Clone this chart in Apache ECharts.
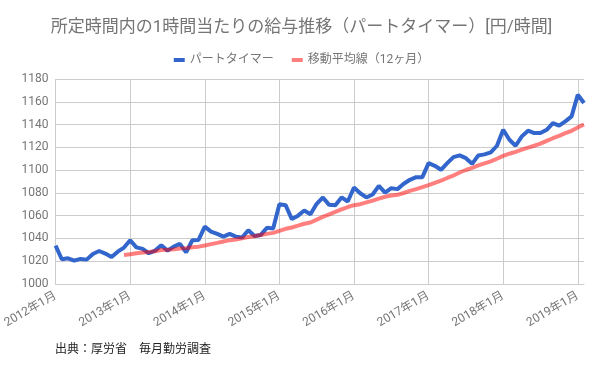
<!DOCTYPE html>
<html>
<head>
<meta charset="utf-8">
<script src="https://cdn.jsdelivr.net/npm/echarts@6/dist/echarts.min.js"></script>
<style>
html,body{margin:0;padding:0;background:#fff;}
#chart{width:603px;height:373px;}
</style>
</head>
<body>
<div id="chart"></div>
<script>
// Data (monthly, 2012年1月 .. 2019年2月)
const startYear = 2012;
const monthCount = 86;
const seriesNames = ['パートタイマー', '移動平均線（12ヶ月）'];
const partTimer = [
  1033.7, 1021.7, 1022.6, 1020.5, 1022.0, 1021.4, 1026.4, 1029.0, 1026.7, 1023.7, 1028.4, 1032.0,
  1038.4, 1032.2, 1030.8, 1027.0, 1029.3, 1034.0, 1029.3, 1032.8, 1035.2, 1027.9, 1038.4, 1038.7,
  1050.4, 1046.0, 1044.0, 1041.6, 1044.0, 1041.6, 1040.8, 1047.2, 1042.2, 1043.1, 1049.3, 1048.7,
  1070.0, 1069.2, 1057.0, 1060.0, 1064.5, 1061.3, 1070.4, 1076.0, 1069.5, 1069.2, 1076.0, 1072.4,
  1084.7, 1079.7, 1076.0, 1078.6, 1086.2, 1080.3, 1084.1, 1083.3, 1088.0, 1091.5, 1093.8, 1093.8,
  1106.1, 1103.8, 1100.3, 1106.1, 1111.4, 1112.9, 1110.5, 1105.5, 1112.9, 1113.8, 1115.5, 1121.4,
  1135.4, 1126.6, 1121.4, 1129.6, 1134.6, 1132.5, 1132.5, 1135.4, 1141.3, 1139.0, 1142.8, 1147.2,
  1166.2, 1158.9
];
// 12-month moving average, starts at 2012年12月 (index 11)
const movingAvgStart = 11;
const movingAvg = [
  1025.5,
  1026.1, 1027.0, 1027.7, 1028.2, 1028.8, 1029.9, 1030.1, 1030.4, 1031.1, 1031.5, 1032.3, 1032.8,
  1033.8, 1035.0, 1036.1, 1037.3, 1038.5, 1039.1, 1040.1, 1041.3, 1041.9, 1043.1, 1044.0, 1044.9,
  1046.6, 1048.5, 1049.6, 1051.2, 1052.9, 1054.0, 1056.5, 1058.9, 1061.2, 1063.4, 1065.6, 1067.6,
  1069.2, 1070.1, 1071.7, 1073.2, 1075.0, 1076.6, 1077.7, 1078.3, 1079.9, 1081.8, 1083.3, 1085.0,
  1086.8, 1088.8, 1090.8, 1093.1, 1095.2, 1097.9, 1100.1, 1102.0, 1104.1, 1105.9, 1107.7, 1110.0,
  1112.5, 1114.4, 1116.0, 1117.9, 1119.8, 1121.4, 1123.2, 1125.7, 1128.0, 1130.1, 1132.4, 1134.5,
  1137.5, 1140.0
];
const yMin = 1000, yMax = 1180, yStep = 20;
const titleText = '所定時間内の1時間当たりの給与推移（パートタイマー）[円/時間]';
const sourceText = '出典：厚労省　毎月勤労調査';

const categories = [];
for (let i = 0; i < monthCount; i++) {
  const y = startYear + Math.floor(i / 12);
  const m = (i % 12) + 1;
  categories.push(y + '年' + m + '月');
}
const avgData = [];
for (let i = 0; i < movingAvgStart; i++) avgData.push(null);
movingAvg.forEach(v => avgData.push(v));

const FONT = "Roboto, 'Noto Sans CJK JP', sans-serif";
const chart = echarts.init(document.getElementById('chart'), null, {renderer: 'canvas'});
const yearTick = (idx) => idx % 12 === 0;
chart.setOption({
  animation: false,
  backgroundColor: '#ffffff',
  textStyle: {fontFamily: FONT},
  title: [{
    text: titleText,
    left: 'center',
    top: 14,
    textStyle: {fontSize: 17, fontWeight: 'normal', color: '#757575', fontFamily: FONT}
  }, {
    text: sourceText,
    left: 50,
    top: 339,
    textStyle: {fontSize: 12, fontWeight: 'normal', color: '#222', fontFamily: FONT}
  }],
  legend: {
    top: 49,
    left: 'center',
    icon: 'rect',
    itemWidth: 11,
    itemHeight: 4,
    itemGap: 18,
    textStyle: {fontSize: 12, color: '#757575', fontFamily: FONT},
    data: seriesNames
  },
  grid: {left: 52, right: 19, top: 79, bottom: 89, containLabel: false},
  xAxis: {
    type: 'category',
    data: categories,
    boundaryGap: false,
    axisLine: {show: true, lineStyle: {color: '#cccccc', width: 1}},
    axisTick: {show: false},
    axisLabel: {
      interval: (idx) => yearTick(idx),
      rotate: 30,
      color: '#757575',
      fontSize: 12,
      margin: 11,
      fontFamily: FONT
    },
    splitLine: {show: true, interval: (idx) => yearTick(idx), lineStyle: {color: '#cccccc', width: 1}}
  },
  yAxis: {
    type: 'value',
    min: yMin,
    max: yMax,
    interval: yStep,
    axisLine: {show: false},
    axisTick: {show: false},
    axisLabel: {color: '#757575', fontSize: 12, margin: 7, fontFamily: FONT, formatter: (v) => String(v)},
    splitLine: {lineStyle: {color: '#cccccc', width: 1}}
  },
  series: [{
    name: seriesNames[0],
    type: 'line',
    data: partTimer,
    showSymbol: false,
    symbol: 'none',
    color: '#3366cc',
    lineStyle: {width: 4, color: '#3366cc'},
    z: 2
  }, {
    name: seriesNames[1],
    type: 'line',
    data: avgData,
    showSymbol: false,
    symbol: 'none',
    color: 'rgba(255,0,0,0.5)',
    lineStyle: {width: 4, color: 'rgba(255,0,0,0.5)'},
    z: 3
  }]
});
</script>
</body>
</html>
